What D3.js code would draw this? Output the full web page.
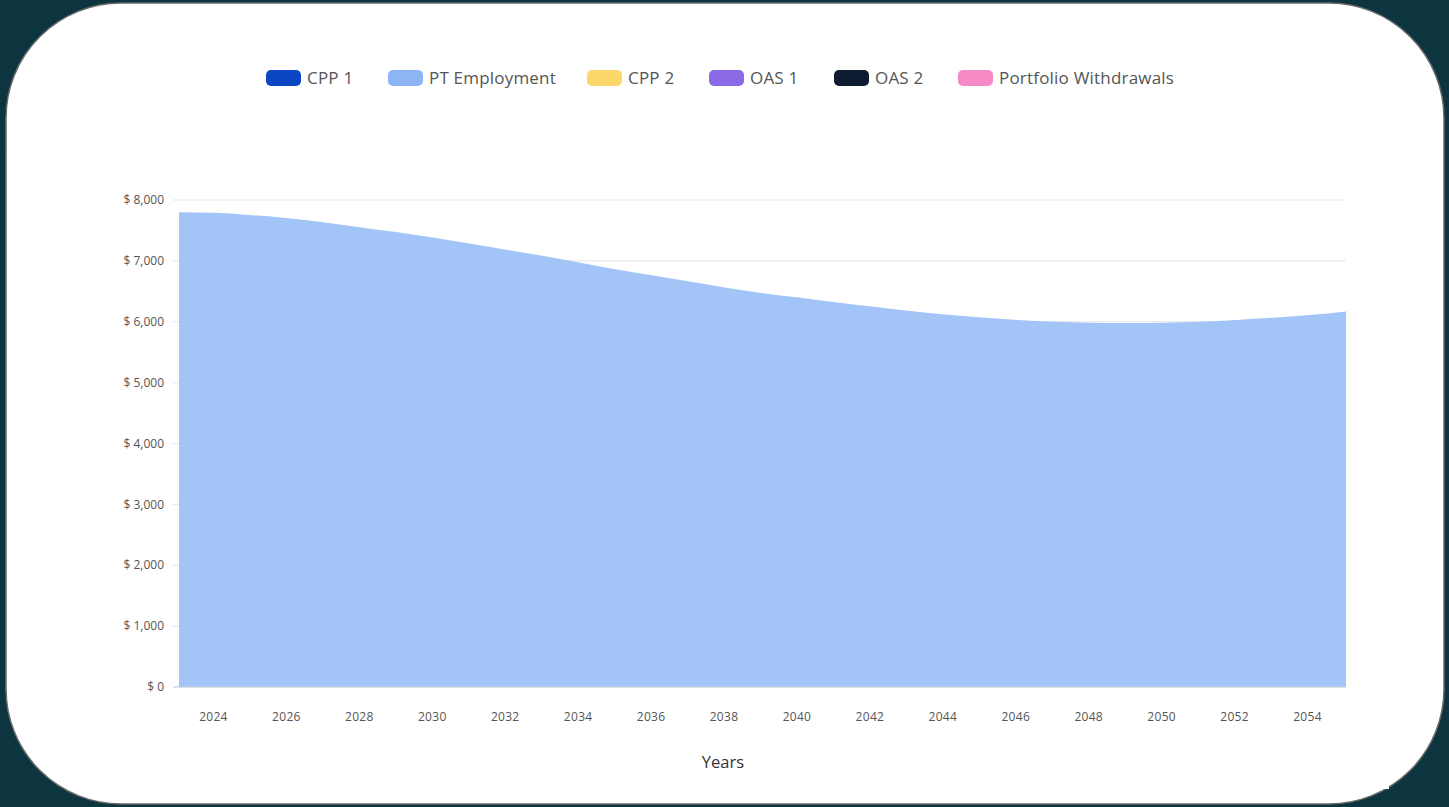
<!DOCTYPE html>
<html>
<head>
<meta charset="utf-8">
<script src="https://cdn.jsdelivr.net/npm/d3@7/dist/d3.min.js"></script>
<style>
  html, body { margin: 0; padding: 0; background: #0d3540; }
  svg { display: block; }
</style>
</head>
<body>
<svg id="chart" width="1449" height="807"></svg>
<script>
// ---- data ----
const seriesNames = ["CPP 1", "PT Employment", "CPP 2", "OAS 1", "OAS 2", "Portfolio Withdrawals"];
const seriesColors = ["#0a45c2", "#8db5f6", "#fcd76a", "#8b6ae6", "#0f1b30", "#f78ac6"];
const years = [2023, 2024, 2025, 2026, 2027, 2028, 2029, 2030, 2031, 2032, 2033, 2034, 2035, 2036, 2037, 2038, 2039,
               2040, 2041, 2042, 2043, 2044, 2045, 2046, 2047, 2048, 2049, 2050, 2051, 2052, 2053, 2054, 2055];
const ptEmployment = [7800, 7790, 7750, 7700, 7630, 7550, 7470, 7380, 7280, 7180, 7080, 6970, 6860, 6760, 6660, 6560, 6470,
                      6400, 6320, 6250, 6180, 6120, 6070, 6030, 6000, 5985, 5980, 5985, 6000, 6030, 6065, 6110, 6170];
const yTicks = [0, 1000, 2000, 3000, 4000, 5000, 6000, 7000, 8000];
const xTicks = [2024, 2026, 2028, 2030, 2032, 2034, 2036, 2038, 2040, 2042, 2044, 2046, 2048, 2050, 2052, 2054];
const xTitle = "Years";

// ---- layout ----
const svg = d3.select("#chart");
const font = "'Open Sans', Lato, sans-serif";

// card
svg.append("rect").attr("x", 6).attr("y", 3).attr("width", 1438).attr("height", 801)
  .attr("rx", 115).attr("ry", 115)
  .attr("fill", "#ffffff").attr("stroke", "#6a6a6a").attr("stroke-width", 1.5);
svg.append("rect").attr("x", 1368).attr("y", 770).attr("width", 21).attr("height", 19).attr("fill", "#ffffff");

const pLeft = 179, pRight = 1346, pTop = 200, pBottom = 687;
const x = d3.scaleLinear().domain([2023, 2055]).range([pLeft, pRight]);
const y = d3.scaleLinear().domain([0, 8000]).range([pBottom, pTop]);

// grid
const g = svg.append("g");
g.selectAll("line.grid").data(yTicks).enter().append("line")
  .attr("x1", pLeft - 6).attr("x2", pRight)
  .attr("y1", d => y(d)).attr("y2", d => y(d))
  .attr("stroke", "#e4e4e4").attr("stroke-width", 1);

// area
const data = years.map((yr, i) => ({ yr, v: ptEmployment[i] }));
const area = d3.area().x(d => x(d.yr)).y0(y(0)).y1(d => y(d.v)).curve(d3.curveMonotoneX);
g.append("path").datum(data).attr("d", area).attr("fill", "#a3c4f6");

// baseline
g.append("line").attr("x1", pLeft - 6).attr("x2", pRight).attr("y1", y(0)).attr("y2", y(0))
  .attr("stroke", "#c9d3e3").attr("stroke-width", 1);

// y labels
g.selectAll("text.yl").data(yTicks).enter().append("text")
  .attr("x", 164).attr("y", d => y(d)).attr("dy", "0.35em")
  .attr("text-anchor", "end").attr("font-family", font).attr("font-size", 12)
  .attr("fill", "#555").text(d => "$ " + d3.format(",")(d));

// x labels
g.selectAll("text.xl").data(xTicks).enter().append("text")
  .attr("x", d => x(d) - 2).attr("y", 721)
  .attr("text-anchor", "middle").attr("font-family", font).attr("font-size", 12)
  .attr("letter-spacing", 0.3)
  .attr("fill", "#555").text(d => d);

// x title
g.append("text").attr("x", 723).attr("y", 768).attr("text-anchor", "middle")
  .attr("font-family", font).attr("font-size", 16.5).attr("fill", "#333").text(xTitle);

// legend
const legendX = [266, 388, 587, 709, 834, 958];
const lg = svg.append("g");
seriesNames.forEach((name, i) => {
  lg.append("rect").attr("x", legendX[i]).attr("y", 70).attr("width", 35).attr("height", 16)
    .attr("rx", 5).attr("fill", seriesColors[i]);
  lg.append("text").attr("x", legendX[i] + 41).attr("y", 78).attr("dy", "0.35em")
    .attr("font-family", font).attr("font-size", 17).attr("letter-spacing", 0.2)
    .attr("fill", "#555").text(name);
});
</script>
</body>
</html>
